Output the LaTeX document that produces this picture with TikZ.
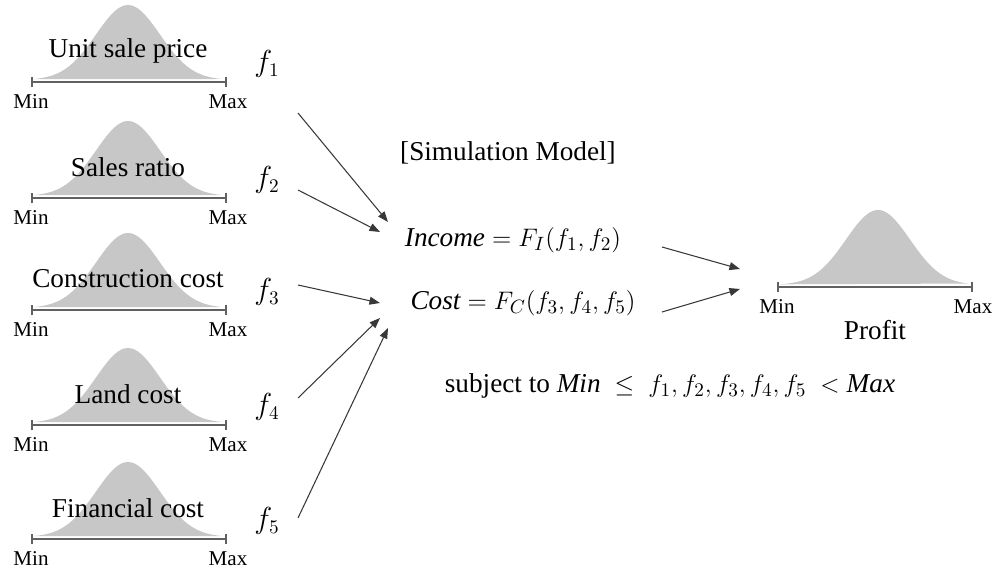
\documentclass[tikz,border=0pt]{standalone}
\usepackage{amsmath,amssymb}
\usepackage{fontspec}
\setmainfont{Liberation Serif}
\usepackage{tikz}
\usetikzlibrary{arrows.meta,positioning,calc}

\begin{document}
\begin{tikzpicture}[
    x=0.02cm, y=-0.02cm,
    dist/.style={fill=black!22, draw=none},
    axln/.style={{Bar[width=6pt]}-{Bar[width=6pt]}, line width=1.1pt, draw=black!62},
    ttl/.style={font=\fontsize{15.5}{18}\selectfont, inner sep=0pt},
    lim/.style={font=\fontsize{12}{14}\selectfont, inner sep=0pt},
    fv/.style={font=\fontsize{16}{18}\selectfont, inner sep=0pt},
    eqn/.style={font=\fontsize{15.5}{18}\selectfont, inner sep=1pt},
    arr/.style={-{Triangle[length=6pt, width=4.5pt]}, line width=0.6pt, draw=black!78}
]
\useasboundingbox (0,0) rectangle (995,570);

% input distributions
\foreach \y/\txt/\i in {82/Unit sale price/1, 198/Sales ratio/2, 310/Construction cost/3, 425/Land cost/4, 539/Financial cost/5}{
  \fill[dist] plot[domain=33:222, samples=70] (\x, {\y-2-75*exp(-((\x-128)^2)/2048)}) -- cycle;
  \draw[axln] (31,\y) -- (227,\y);
  \node[ttl] (t\i) at (128,\y-31) {\txt};
  \node[lim] (mn\i) at (31,\y+20) {Min};
  \node[lim] (mx\i) at (228,\y+20) {Max};
  \node[fv] (f\i) at (267,\y-18) {$f_{\i}$};
}

% model
\node[eqn] (sim) at (508,153) {[Simulation Model]};
\node[eqn] (inc) at (513,240) {$\mathit{Income} = F_I(f_1, f_2)$};
\node[eqn] (cst) at (523,303) {$\mathit{Cost} = F_C(f_3, f_4, f_5)$};
\node[eqn] (cond) at (670,386) {subject to $\mathit{Min} \;\leq\; f_1, f_2, f_3, f_4, f_5 \;<\mathit{Max}$};

% output distribution
\fill[dist] plot[domain=780:968, samples=70] (\x, {285-75*exp(-((\x-878)^2)/2048)}) -- cycle;
\draw[axln] (777,287) -- (973,287);
\node[lim] (mnp) at (777,307) {Min};
\node[lim] (mxp) at (973,307) {Max};
\node[ttl] (prf) at (875,330) {Profit};

% connectors
\coordinate (s1) at (298,113);
\coordinate (s2) at (298,190);
\coordinate (s3) at (298,285);
\coordinate (s4) at (298,398);
\coordinate (s5) at (298,518);
\coordinate (e1) at (388,222);
\coordinate (e2) at (380,232);
\coordinate (e3) at (380,303);
\coordinate (e4) at (380,318);
\coordinate (e5) at (388,328);
\coordinate (o1) at (662,247);
\coordinate (o2) at (662,312);
\coordinate (p1) at (740,269);
\coordinate (p2) at (740,289);

\draw[arr] (s1) -- (e1);
\draw[arr] (s2) -- (e2);
\draw[arr] (s3) -- (e3);
\draw[arr] (s4) -- (e4);
\draw[arr] (s5) -- (e5);
\draw[arr] (o1) -- (p1);
\draw[arr] (o2) -- (p2);
\end{tikzpicture}
\end{document}
